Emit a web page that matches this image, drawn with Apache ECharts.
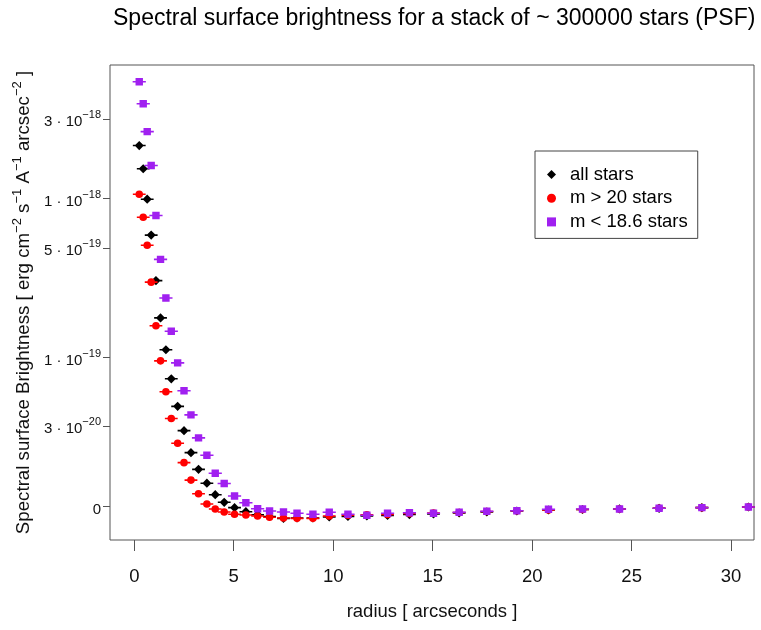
<!DOCTYPE html>
<html><head><meta charset="utf-8">
<script src="https://cdn.jsdelivr.net/npm/echarts@6/dist/echarts.min.js"></script>
<style>html,body{margin:0;padding:0;background:#fff}#c{width:761px;height:630px}</style>
</head><body><div id="c"></div>
<script>
// radius [arcsec] of each annulus
const radius = [0.25,0.45,0.65,0.85,1.09,1.32,1.59,1.86,2.18,2.50,2.85,3.23,3.65,4.07,4.52,5.04,5.61,6.20,6.80,7.50,8.18,8.98,9.80,10.74,11.69,12.73,13.83,15.04,16.33,17.72,19.23,20.82,22.53,24.39,26.38,28.53,30.87];
// spectral surface brightness [erg cm^-2 s^-1 A^-1 arcsec^-2]
const allStars = [2.08e-18,1.51e-18,9.9e-19,6.0e-19,3.15e-19,1.83e-19,1.13e-19,7.1e-20,4.4e-20,2.73e-20,1.63e-20,9.9e-21,5.6e-21,2.6e-21,8.7e-22,-2.6e-22,-1.05e-21,-1.61e-21,-1.94e-21,-2.26e-21,-2.2e-21,-2.2e-21,-2.02e-21,-1.94e-21,-1.85e-21,-1.76e-21,-1.58e-21,-1.48e-21,-1.30e-21,-1.11e-21,-9.2e-22,-7.2e-22,-6.2e-22,-5.2e-22,-3.9e-22,-2.6e-22,-1.2e-22];
const faintStars = [1.06e-18,7.7e-19,5.2e-19,3.08e-19,1.63e-19,9.5e-20,5.7e-20,3.5e-20,2.06e-20,1.23e-20,6.5e-21,2.85e-21,5.0e-22,-5.2e-22,-1.11e-21,-1.54e-21,-1.67e-21,-1.85e-21,-2.08e-21,-2.2e-21,-2.26e-21,-2.26e-21,-1.85e-21,-1.72e-21,-1.61e-21,-1.58e-21,-1.39e-21,-1.30e-21,-1.20e-21,-1.01e-21,-8.6e-22,-7.2e-22,-6.2e-22,-5.2e-22,-3.9e-22,-2.6e-22,-1.2e-22];
const brightStars = [5.0e-18,3.7e-18,2.52e-18,1.58e-18,7.9e-19,4.26e-19,2.45e-19,1.50e-19,9.2e-20,5.8e-20,3.75e-20,2.33e-20,1.52e-20,8.6e-21,5.5e-21,2.3e-21,7.8e-22,-4.7e-22,-9.2e-22,-1.11e-21,-1.35e-21,-1.54e-21,-1.16e-21,-1.54e-21,-1.72e-21,-1.35e-21,-1.24e-21,-1.35e-21,-1.16e-21,-9.7e-22,-8.6e-22,-5.8e-22,-5.2e-22,-5.2e-22,-3.9e-22,-2.6e-22,-1.2e-22];
const seriesNames = ['all stars','m > 20 stars','m < 18.6 stars'];
const xTicks = [0,5,10,15,20,25,30];
const yTicks = [0,3e-20,1e-19,5e-19,1e-18,3e-18];

const FONT = 'Liberation Sans';
// log-offset scale of the brightness axis
const C = 1.5e-20;
const T = v => Math.log((v + C) / C);

function yLabel(t) {
  let best = 0, bd = Infinity;
  yTicks.forEach((v, i) => { const d = Math.abs(T(v) - t); if (d < bd) { bd = d; best = i; } });
  const v = yTicks[best];
  if (v === 0) return '{z|0}';
  const e = Math.floor(Math.log10(v) + 1e-9);
  const m = Math.round(v / Math.pow(10, e));
  return '{b|' + m + ' \u00b7 10}{s|\u2212' + Math.abs(e) + '}';
}

const symDiamond = 'path://M0,-4.6L4.6,0L0,4.6L-4.6,0Z M-6.4,-0.8L6.4,-0.8L6.4,0.8L-6.4,0.8Z';
const symCircle = 'path://M-3.8,0A3.8,3.8 0 1 1 3.8,0A3.8,3.8 0 1 1 -3.8,0Z M-6.4,-0.8L6.4,-0.8L6.4,0.8L-6.4,0.8Z';
const symSquare = 'path://M-3.7,-3.7L3.7,-3.7L3.7,3.7L-3.7,3.7Z M-6.6,-0.8L6.6,-0.8L6.6,0.8L-6.6,0.8Z';

function mk(name, vals, sym, size, color) {
  return {
    name, type: 'scatter', symbol: sym, symbolSize: size,
    itemStyle: { color, opacity: 1 },
    emphasis: { disabled: true },
    data: radius.map((r, i) => [r, T(vals[i])])
  };
}

const chart = echarts.init(document.getElementById('c'), null, { renderer: 'canvas' });
chart.setOption({
  animation: false,
  backgroundColor: '#fff',
  textStyle: { fontFamily: FONT },
  title: {
    text: 'Spectral surface brightness for a stack of ~ 300000 stars (PSF)',
    left: 113, top: 7, padding: 0,
    textStyle: { fontSize: 23, fontWeight: 'normal', color: '#000', fontFamily: FONT }
  },
  legend: {
    orient: 'vertical', left: 535, top: 151,
    padding: [14, 10, 7, 12], itemGap: 4.7, itemWidth: 9, itemHeight: 9,
    borderColor: '#444', borderWidth: 1, selectedMode: false,
    textStyle: { fontSize: 18.5, lineHeight: 18, color: '#000', fontFamily: FONT, padding: [0, 0, 0, 9] },
    data: [
      { name: seriesNames[0], icon: 'diamond' },
      { name: seriesNames[1], icon: 'circle' },
      { name: seriesNames[2], icon: 'rect' }
    ]
  },
  grid: {
    left: 110, right: 7, top: 65, bottom: 90,
    show: true, borderColor: '#555', borderWidth: 1, backgroundColor: 'transparent',
    outerBoundsMode: 'none'
  },
  xAxis: {
    type: 'value', min: -1.22, max: 31.15,
    axisLine: { show: false, onZero: false },
    splitLine: { show: false },
    axisTick: { show: true, customValues: xTicks, length: 11, lineStyle: { color: '#555', width: 1 } },
    axisLabel: { customValues: xTicks, margin: 27, fontSize: 18.5, color: '#111', fontFamily: FONT },
    name: 'radius [ arcseconds ]', nameLocation: 'middle', nameGap: 62,
    nameTextStyle: { fontSize: 18.5, color: '#111', fontFamily: FONT }
  },
  yAxis: {
    type: 'value', min: -0.46, max: 6.042,
    axisLine: { show: false, onZero: false },
    splitLine: { show: false },
    axisTick: { show: true, customValues: yTicks.map(T), length: 7, lineStyle: { color: '#555', width: 1 } },
    axisLabel: {
      customValues: yTicks.map(T), margin: 9, color: '#111', fontFamily: FONT,
      formatter: yLabel, padding: [6, 0, 0, 0],
      rich: {
        b: { fontSize: 15, lineHeight: 25, color: '#111', fontFamily: FONT },
        s: { fontSize: 11, lineHeight: 11, verticalAlign: 'top', color: '#111', fontFamily: FONT },
        z: { fontSize: 15, lineHeight: 19, color: '#111', fontFamily: FONT }
      }
    },
    name: '{n|Spectral surface Brightness [ erg cm}{s|\u22122}{n| s}{s|\u22121}{n| A}{s|\u22121}{n| arcsec}{s|\u22122}{n| ]}',
    nameLocation: 'middle', nameGap: 73,
    nameTextStyle: {
      fontFamily: FONT, color: '#111',
      rich: {
        n: { fontSize: 18.7, lineHeight: 26, color: '#111', fontFamily: FONT },
        s: { fontSize: 13, lineHeight: 13, verticalAlign: 'top', color: '#111', fontFamily: FONT }
      }
    }
  },
  series: [
    mk(seriesNames[0], allStars, symDiamond, [12.8, 9.2], '#000000'),
    mk(seriesNames[1], faintStars, symCircle, [12.8, 7.6], '#ff0000'),
    mk(seriesNames[2], brightStars, symSquare, [13.2, 7.4], '#a020f0')
  ]
});
</script>
</body></html>
